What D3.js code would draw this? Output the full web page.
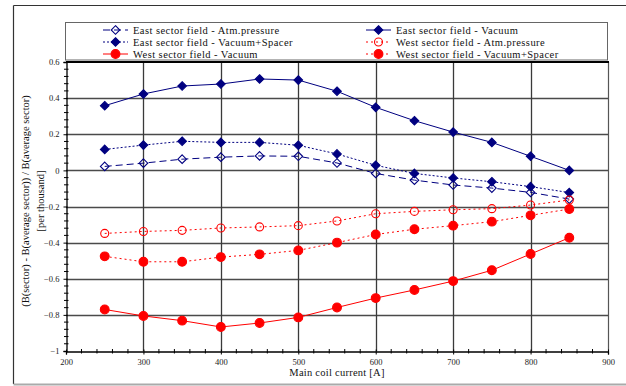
<!DOCTYPE html>
<html>
<head>
<meta charset="utf-8">
<script src="https://cdn.jsdelivr.net/npm/d3@7"></script>
<style>
  html, body { margin: 0; padding: 0; background: #fff; }
  svg { display: block; }
</style>
</head>
<body>
<svg id="chart" width="626" height="386" style="font-family: 'Liberation Serif', 'Times New Roman', Times, serif;"></svg>
<script>
// Main coil current [A]
const currents = [250, 300, 350, 400, 450, 500, 550, 600, 650, 700, 750, 800, 850];

// Relative deviation of sector field from the average, per thousand
const eastAtm      = [0.022, 0.040, 0.062, 0.073, 0.080, 0.078, 0.041, -0.017, -0.054, -0.081, -0.098, -0.122, -0.159];
const eastVacuum   = [0.358, 0.423, 0.467, 0.478, 0.506, 0.500, 0.438, 0.349, 0.275, 0.212, 0.155, 0.078, 0.000];
const eastSpacer   = [0.116, 0.140, 0.161, 0.155, 0.155, 0.139, 0.091, 0.028, -0.017, -0.042, -0.063, -0.090, -0.123];
const westAtm      = [-0.349, -0.338, -0.332, -0.319, -0.313, -0.306, -0.280, -0.240, -0.227, -0.218, -0.212, -0.192, -0.164];
const westVacuum   = [-0.770, -0.806, -0.832, -0.867, -0.845, -0.814, -0.759, -0.707, -0.662, -0.613, -0.553, -0.463, -0.373];
const westSpacer   = [-0.476, -0.506, -0.506, -0.480, -0.465, -0.443, -0.400, -0.355, -0.326, -0.306, -0.284, -0.249, -0.214];

const xTicks = [200, 300, 400, 500, 600, 700, 800, 900];
const yTicks = [0.6, 0.4, 0.2, 0, -0.2, -0.4, -0.6, -0.8, -1];

const NAVY = "#000080", RED = "#ff0000";
const SERIF = "'Liberation Serif', 'Times New Roman', Times, serif";

const series = [
  { name: "East sector field - Atm.pressure",     values: eastAtm,    color: NAVY, dash: "7,4", marker: "diamond", filled: false, col: 0, row: 0 },
  { name: "East sector field - Vacuum",           values: eastVacuum, color: NAVY, dash: null,  marker: "diamond", filled: true,  col: 1, row: 0 },
  { name: "East sector field - Vacuum+Spacer",    values: eastSpacer, color: NAVY, dash: "2,2", marker: "diamond", filled: true,  col: 0, row: 1 },
  { name: "West sector field - Atm.pressure",     values: westAtm,    color: RED,  dash: "2,3", marker: "circle",  filled: false, col: 1, row: 1 },
  { name: "West sector field - Vacuum",           values: westVacuum, color: RED,  dash: null,  marker: "circle",  filled: true,  col: 0, row: 2 },
  { name: "West sector field - Vacuum+Spacer",    values: westSpacer, color: RED,  dash: "2,3", marker: "circle",  filled: true,  col: 1, row: 2 }
];

const svg = d3.select("#chart");

// outer chart frame
svg.append("line").attr("x1", 13.5).attr("x2", 626).attr("y1", 5.5).attr("y2", 5.5).attr("stroke", "#333").attr("stroke-width", 1.2);
svg.append("line").attr("x1", 13.5).attr("x2", 13.5).attr("y1", 5.5).attr("y2", 384).attr("stroke", "#333").attr("stroke-width", 1.2);
svg.append("line").attr("x1", 13.5).attr("x2", 626).attr("y1", 384.5).attr("y2", 384.5).attr("stroke", "#aaa").attr("stroke-width", 2);

const plot = { left: 66, top: 62, right: 608, bottom: 351 };

const x = d3.scaleLinear().domain([200, 900]).range([plot.left, plot.right]);
const y = d3.scaleLinear().domain([-1, 0.6]).range([plot.bottom, plot.top]);

// gridlines
const grid = svg.append("g");
grid.selectAll("line.h").data(yTicks.filter(v => v > -1 && v < 0.6)).join("line")
  .attr("x1", plot.left).attr("x2", plot.right)
  .attr("y1", d => Math.round(y(d)) + 0.5).attr("y2", d => Math.round(y(d)) + 0.5)
  .attr("stroke", "#4a4a4a").attr("stroke-width", 1.3);
grid.selectAll("line.v").data(xTicks.filter(v => v > 200 && v < 900)).join("line")
  .attr("y1", plot.top).attr("y2", plot.bottom)
  .attr("x1", d => Math.round(x(d)) + 0.5).attr("x2", d => Math.round(x(d)) + 0.5)
  .attr("stroke", "#3a3a3a").attr("stroke-width", 1.3);

// plot border
svg.append("line").attr("x1", plot.right + 0.5).attr("x2", plot.right + 0.5).attr("y1", plot.top).attr("y2", plot.bottom).attr("stroke", "#555").attr("stroke-width", 1.2);
svg.append("line").attr("x1", plot.left).attr("x2", plot.right + 1).attr("y1", plot.top).attr("y2", plot.top).attr("stroke", "#000").attr("stroke-width", 2);

// axes
const xAxis = d3.axisBottom(x).tickValues(xTicks).tickSize(3).tickFormat(d3.format("d"));
const gx = svg.append("g").attr("transform", `translate(0,${plot.bottom + 0.5})`).call(xAxis)
  .attr("font-family", SERIF);
gx.select(".domain").attr("stroke", "#000").attr("stroke-width", 1.3);
gx.selectAll(".tick line").attr("stroke", "#000").attr("y1", -2);
gx.selectAll(".tick text").attr("font-size", 8.5).attr("fill", "#222").attr("y", 10.5).attr("dy", "0.32em");

const yAxis = d3.axisLeft(y).tickValues(yTicks).tickSize(3).tickFormat(d => d3.format("")(d));
const gy = svg.append("g").attr("transform", `translate(${plot.left + 0.5},0)`).call(yAxis)
  .attr("font-family", SERIF);
gy.select(".domain").attr("stroke", "#000").attr("stroke-width", 1.3);
gy.selectAll(".tick line").attr("stroke", "#000").attr("x1", 1);
gy.selectAll(".tick text").attr("font-size", 8.5).attr("fill", "#222").attr("x", -7);

// minor ticks
const xMinor = d3.range(220, 900, 20).filter(v => v % 100 !== 0);
svg.append("g").selectAll("line").data(xMinor).join("line")
  .attr("x1", d => x(d)).attr("x2", d => x(d))
  .attr("y1", plot.bottom - 2).attr("y2", plot.bottom + 2.5)
  .attr("stroke", "#000").attr("stroke-width", 1);
const yMinor = d3.range(-0.96, 0.6, 0.04).filter(v => Math.abs(Math.round(v * 5) - v * 5) > 0.01);
svg.append("g").selectAll("line").data(yMinor).join("line")
  .attr("x1", plot.left - 2).attr("x2", plot.left + 2.5)
  .attr("y1", d => y(d)).attr("y2", d => y(d))
  .attr("stroke", "#000").attr("stroke-width", 1);

// axis titles
svg.append("text").attr("x", (plot.left + plot.right) / 2).attr("y", 376)
  .attr("text-anchor", "middle").attr("font-size", 10.5).attr("letter-spacing", 0.25).attr("fill", "#111")
  .attr("font-family", SERIF).text("Main coil current  [A]");
const yt = svg.append("g").attr("transform", "translate(0,201)").attr("font-family", SERIF);
yt.append("text").attr("transform", "translate(29,0) rotate(-90)").attr("text-anchor", "middle")
  .attr("font-size", 10.5).attr("fill", "#111").text("(B(sector) - B(average sector)) / B(average sector)");
yt.append("text").attr("transform", "translate(43.5,0) rotate(-90)").attr("text-anchor", "middle")
  .attr("font-size", 10.5).attr("fill", "#111").text("[per thousand]");

// markers
function drawMarker(g, s, cx, cy) {
  if (s.marker === "diamond") {
    const r = 4.3;
    g.append("path")
      .attr("d", `M${cx},${cy - r}L${cx + r},${cy}L${cx},${cy + r}L${cx - r},${cy}Z`)
      .attr("fill", s.filled ? s.color : "none")
      .attr("stroke", s.color).attr("stroke-width", 1.1);
  } else {
    g.append("circle").attr("cx", cx).attr("cy", cy)
      .attr("r", s.filled ? 4.4 : 4)
      .attr("fill", s.filled ? s.color : "none")
      .attr("stroke", s.color).attr("stroke-width", 1.1);
  }
}

// series lines and markers
const line = d3.line().x(d => x(d[0])).y(d => y(d[1]));
series.forEach(s => {
  const pts = currents.map((c, i) => [c, s.values[i]]);
  const g = svg.append("g");
  g.append("path").datum(pts).attr("d", line)
    .attr("fill", "none").attr("stroke", s.color).attr("stroke-width", 1)
    .attr("stroke-dasharray", s.dash);
  pts.forEach(p => drawMarker(g, s, x(p[0]), y(p[1])));
});

// legend
const lg = svg.append("g").attr("font-family", SERIF);
lg.append("rect").attr("x", 65.5).attr("y", 22.5).attr("width", 542).attr("height", 37.5)
  .attr("fill", "#fff").attr("stroke", "#666").attr("stroke-width", 1);
const colX = [103, 366];
series.forEach(s => {
  const x0 = colX[s.col], yy = 30 + s.row * 12;
  const g = lg.append("g");
  g.append("line").attr("x1", x0).attr("x2", x0 + 25).attr("y1", yy).attr("y2", yy)
    .attr("stroke", s.color).attr("stroke-width", 1).attr("stroke-dasharray", s.dash);
  drawMarker(g, s, x0 + 12.5, yy);
  g.append("text").attr("x", x0 + 30).attr("y", yy + 3.8).attr("font-size", 10.5)
    .attr("letter-spacing", 0.45).attr("fill", "#111").text(s.name);
});
</script>
</body>
</html>
